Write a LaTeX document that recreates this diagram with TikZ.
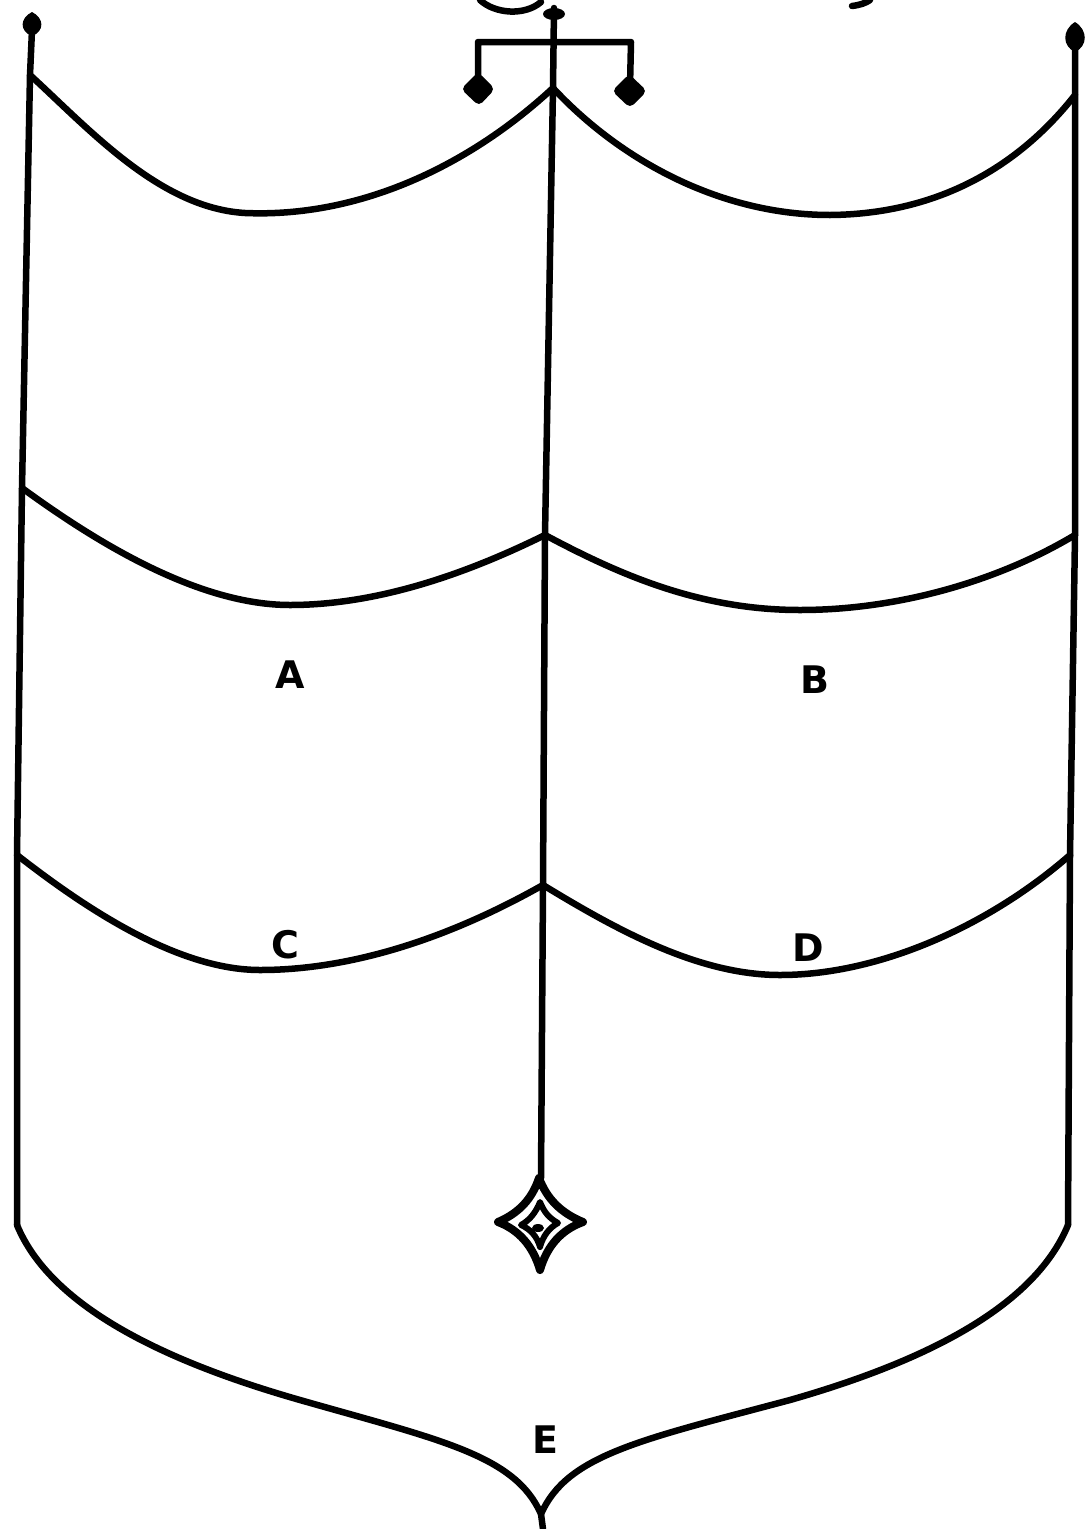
\documentclass[tikz,border=0pt]{standalone}
\usepackage{fontspec}
\setmainfont{DejaVu Sans}
\begin{document}
\begin{tikzpicture}[x=1pt,y=-1pt,
  ink/.style={line width=6.5pt,line cap=round,line join=round},
  lbl/.style={font=\fontsize{38}{38}\selectfont\bfseries},
  knob/.style={fill=black}]
\useasboundingbox (0,0) rectangle (1086,1529);
% verticals
\draw[ink] (32,30) -- (30,75) -- (22,488) -- (17,855) -- (17,1225);
\draw[ink] (1075,40) -- (1075,95) -- (1075,535) -- (1070,855) -- (1068,1225);
\draw[ink] (554,8) -- (553,88) -- (545,535) -- (543,885) -- (541,1178);
% crossbar
\draw[ink] (478,84) -- (478,42) -- (631,42) -- (630,86);
% knobs
\fill[knob] (32,36) .. controls (19,31) and (20,18) .. (32,12) .. controls (44,18) and (45,31) .. (32,36) -- cycle;
\fill[knob] (1075,52) .. controls (1062,46) and (1062,30) .. (1075,22) .. controls (1088,30) and (1088,46) .. (1075,52) -- cycle;
\fill[knob] (554,14) ellipse [x radius=11pt, y radius=6pt];
\fill[knob,rounded corners=5pt] (478,72) -- (495,89) -- (479,106) -- (461,89) -- cycle;
\fill[knob,rounded corners=5pt] (629,74) -- (647,91) -- (630,108) -- (612,91) -- cycle;
% top partial arc and fragment
\draw[ink] (480,0) .. controls (495,14) and (525,16) .. (541,2);
\draw[ink] (852,6) .. controls (860,5) and (866,3) .. (870,0);
% row curves
\draw[ink] (30,75) .. controls (90,130) and (160,208) .. (245,213) .. controls (360,218) and (470,165) .. (553,88);
\draw[ink] (553,88) .. controls (620,160) and (720,215) .. (830,215) .. controls (940,214) and (1020,165) .. (1075,95);
\draw[ink] (22,488) .. controls (100,545) and (200,605) .. (290,605) .. controls (380,605) and (470,572) .. (545,535);
\draw[ink] (545,535) .. controls (620,575) and (700,610) .. (800,610) .. controls (900,610) and (1000,580) .. (1075,535);
\draw[ink] (17,855) .. controls (90,912) and (180,970) .. (260,970) .. controls (360,970) and (460,932) .. (543,885);
\draw[ink] (543,885) .. controls (620,932) and (700,975) .. (780,975) .. controls (880,975) and (990,925) .. (1070,855);
% bottom ogee
\draw[ink] (17,1225) .. controls (50,1305) and (160,1360) .. (300,1400) .. controls (440,1440) and (515,1455) .. (541,1514) -- (543,1529);
\draw[ink] (1068,1225) .. controls (1035,1305) and (930,1360) .. (790,1400) .. controls (640,1440) and (567,1455) .. (541,1514);
% bottom jewel
\draw[ink,line width=8pt] (539,1178) .. controls (547,1199) and (561,1213) .. (583,1222)
  .. controls (561,1230) and (547,1246) .. (540,1270)
  .. controls (533,1246) and (519,1230) .. (498,1222)
  .. controls (519,1213) and (532,1199) .. (539,1178) -- cycle;
\draw[ink,line width=6pt] (540,1202) .. controls (544,1212) and (549,1218) .. (558,1223)
  .. controls (549,1228) and (543,1236) .. (540,1247)
  .. controls (537,1236) and (530,1229) .. (521,1225)
  .. controls (530,1220) and (536,1212) .. (540,1202) -- cycle;
\fill (538,1228) ellipse [x radius=6pt, y radius=4pt];
% labels
\node[lbl] (A) at (290,675) {A};
\node[lbl] (B) at (815,680) {B};
\node[lbl] (C) at (285,945) {C};
\node[lbl] (D) at (808,948) {D};
\node[lbl] (E) at (545,1440) {E};
\end{tikzpicture}
\end{document}
